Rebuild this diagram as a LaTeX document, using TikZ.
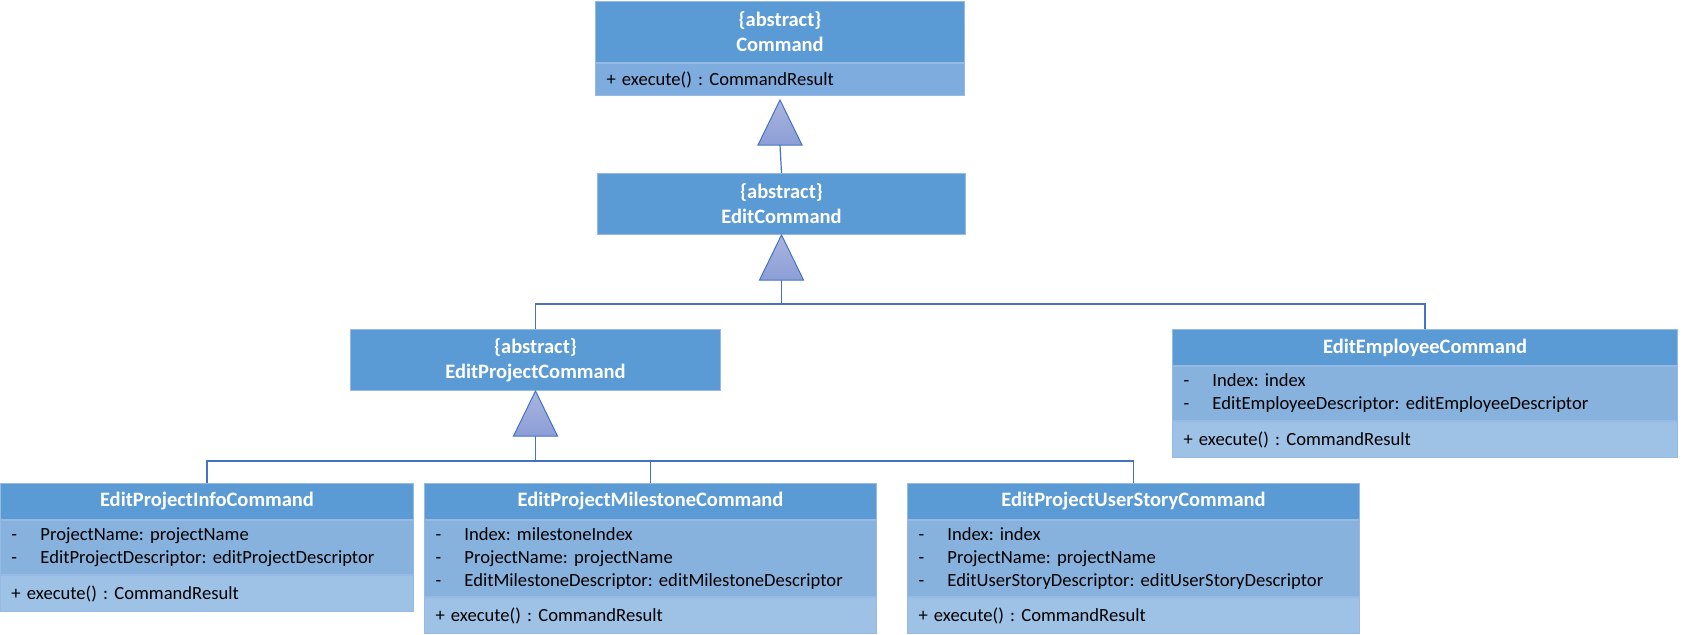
\documentclass[tikz,border=0pt]{standalone}
\usepackage{fontspec}
\setmainfont{Carlito}
\usepackage{tikz}
\usetikzlibrary{positioning,calc}
\frenchspacing
\definecolor{hdrblue}{RGB}{91,155,213}
\definecolor{attrblue}{RGB}{135,178,222}
\definecolor{methblue}{RGB}{157,194,230}
\definecolor{methdark}{RGB}{126,172,222}
\definecolor{rimblue}{RGB}{150,186,228}
\definecolor{edgeblue}{RGB}{68,114,196}
\definecolor{trtop}{RGB}{170,181,222}
\definecolor{trbot}{RGB}{140,158,215}
\newcommand{\attrline}[1]{\makebox[29pt][l]{-}#1}
\tikzset{
  box/.style={draw=rimblue,line width=1pt,inner xsep=11pt,inner ysep=0pt},
  head/.style={box,fill=hdrblue,text=white,align=center,font=\fontsize{20.5}{25}\selectfont\bfseries,minimum height=36pt},
  abs/.style={minimum height=61pt},
  attrs/.style={box,fill=attrblue,align=left,font=\fontsize{18.6}{23}\selectfont,minimum height=#1},
  attrs/.default=54pt,
  meth/.style={box,fill=methblue,align=left,font=\fontsize{18.6}{23}\selectfont,minimum height=36pt},
  gen/.style={draw=edgeblue,line width=1pt,top color=trtop,bottom color=trbot},
  link/.style={draw=edgeblue,line width=1.2pt},
}
\begin{document}
\begin{tikzpicture}[x=1pt,y=-1pt]
  \useasboundingbox (0,0) rectangle (1696,634);
  % abstract classes
  \node[head,abs,anchor=north west,text width=347pt] (cmd) at (595,1) {\{abstract\}\\Command};
  \node[meth,below=0pt of cmd,text width=347pt,fill=methdark,minimum height=32pt] (cmdM) {+ execute() : CommandResult};
  \node[head,abs,anchor=north west,text width=346pt] (edit) at (597,173) {\{abstract\}\\EditCommand};
  \node[head,abs,anchor=north west,text width=348pt] (proj) at (350,329) {\{abstract\}\\EditProjectCommand};
  % concrete classes
  \node[head,anchor=north west,text width=483pt] (emp) at (1172,329) {EditEmployeeCommand};
  \node[attrs,below=0pt of emp,text width=483pt] (empA) {\attrline{Index: index}\\\attrline{EditEmployeeDescriptor: editEmployeeDescriptor}};
  \node[meth,below=0pt of empA,text width=483pt] (empM) {+ execute() : CommandResult};
  \node[head,anchor=north west,text width=391pt] (info) at (0,483) {EditProjectInfoCommand};
  \node[attrs,below=0pt of info,text width=391pt] (infoA) {\attrline{ProjectName: projectName}\\\attrline{EditProjectDescriptor: editProjectDescriptor}};
  \node[meth,below=0pt of infoA,text width=391pt] (infoM) {+ execute() : CommandResult};
  \node[head,anchor=north west,text width=430pt] (mile) at (424,483) {EditProjectMilestoneCommand};
  \node[attrs=76pt,below=0pt of mile,text width=430pt] (mileA) {\attrline{Index: milestoneIndex}\\\attrline{ProjectName: projectName}\\\attrline{EditMilestoneDescriptor: editMilestoneDescriptor}};
  \node[meth,below=0pt of mileA,text width=430pt] (mileM) {+ execute() : CommandResult};
  \node[head,anchor=north west,text width=430pt] (story) at (907,483) {EditProjectUserStoryCommand};
  \node[attrs=76pt,below=0pt of story,text width=430pt] (storyA) {\attrline{Index: index}\\\attrline{ProjectName: projectName}\\\attrline{EditUserStoryDescriptor: editUserStoryDescriptor}};
  \node[meth,below=0pt of storyA,text width=430pt] (storyM) {+ execute() : CommandResult};
  % generalisation triangles
  \coordinate (t1) at ([yshift=-49pt]cmdM.south);
  \coordinate (t2) at ([yshift=-45pt]edit.south);
  \coordinate (t3) at ([yshift=-45pt]proj.south);
  \foreach \t in {t1,t2,t3}{
    \draw[gen] (\t) -- ++(-22,0) -- ++(22,-45) -- ++(22,45) -- cycle;}
  % connectors
  \draw[link] (edit.north) -- (t1);
  \draw[link] (t2) -- ++(0,24) coordinate (j1);
  \draw[link] (proj.north) |- (j1) -| (emp.north);
  \draw[link] (t3) -- ++(0,25) coordinate (j2);
  \draw[link] (info.north) |- (j2) -| (story.north);
  \draw[link] (j2 -| mile.north) -- (mile.north);
\end{tikzpicture}
\end{document}
